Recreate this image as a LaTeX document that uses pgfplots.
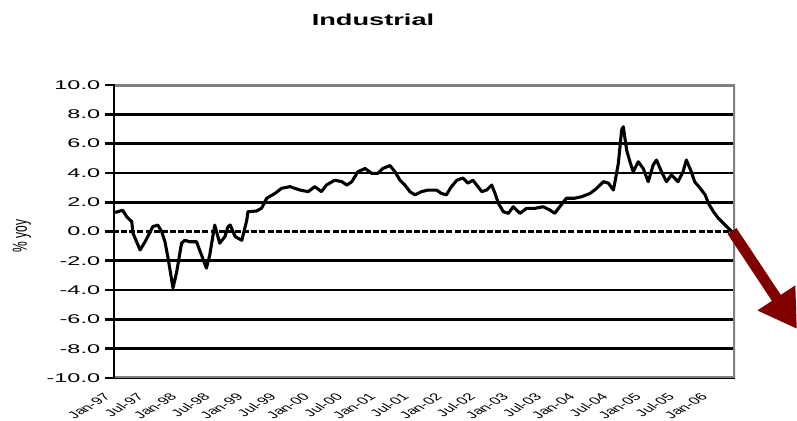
\documentclass[border=0pt]{standalone}
\usepackage{pgfplots}
\pgfplotsset{compat=1.18}
\usepackage{fontspec}
\setmainfont{Liberation Sans}
\usetikzlibrary{arrows.meta}
\definecolor{framegray}{RGB}{128,128,128}
\definecolor{arrowred}{RGB}{128,0,0}
% wide, stretched lettering
\newcommand\hx[1]{\scalebox{1.7}[1]{#1}}
\newcommand\hy[1]{\scalebox{1.85}[1]{#1}}
\newcommand\lab[1]{\scalebox{1.7}[1]{\rotatebox{45}{#1}}}

\begin{document}
\begin{tikzpicture}[x=0.75pt,y=0.75pt]
\useasboundingbox (0,0) rectangle (797,421);
\fill[white] (0,0) rectangle (797,421);
\begin{axis}[
  at={(84.75pt,32.25pt)}, anchor=south west,
  scale only axis, width=466.5pt, height=219.75pt,
  xmin=0, xmax=112.5, ymin=-10, ymax=10,
  axis line style={draw=none},
  ytick={-10,-8,-6,-4,-2,2,4,6,8,10},
  extra y ticks={0},
  extra y tick labels={\hy{0.0}},
  extra y tick style={grid style={black, line width=2.2pt, dash pattern=on 4.5pt off 1.6pt}},
  /pgf/number format/assume math mode=true,
  yticklabel={\hy{\pgfmathprintnumber[fixed,fixed zerofill,precision=1]{\tick}}},
  ymajorgrids, major grid style={black, line width=2pt},
  ytick pos=left, tick align=outside, major tick length=6pt,
  ytick style={black, line width=2pt},
  yticklabel style={font=\fontsize{9.5}{9.5}\selectfont, inner sep=3.5pt},
  xtick={0,6,...,108},
  xtick style={draw=none},
  xticklabels={\lab{Jan-97},\lab{Jul-97},\lab{Jan-98},\lab{Jul-98},\lab{Jan-99},\lab{Jul-99},\lab{Jan-00},\lab{Jul-00},\lab{Jan-01},\lab{Jul-01},\lab{Jan-02},\lab{Jul-02},\lab{Jan-03},\lab{Jul-03},\lab{Jan-04},\lab{Jul-04},\lab{Jan-05},\lab{Jul-05},\lab{Jan-06}},
  xticklabel style={font=\fontsize{7.5}{7.5}\selectfont, anchor=north east, inner sep=1pt, yshift=-4pt},
]
\addplot[black, line width=2.3pt, line join=round] coordinates {
(0.4,1.3) (1.75,1.45) (2.5,1.0) (3.4,0.67) (3.6,-0.1) (4.9,-1.26) (5.8,-0.7)
(7.2,0.33) (8.1,0.44) (8.8,0.0) (9.4,-0.7) (9.95,-1.8) (10.85,-3.85) (11.5,-2.8)
(12.4,-0.8) (13.0,-0.6) (13.9,-0.7) (15.1,-0.7) (16.0,-1.6) (16.9,-2.5) (17.5,-1.6)
(18.4,0.44) (19.3,-0.8) (20.25,-0.35) (20.8,0.33) (21.2,0.44) (22.1,-0.35) (23.3,-0.6)
(24.2,0.78) (24.4,1.35) (26.0,1.4) (26.9,1.6) (27.8,2.27) (29.3,2.6) (30.5,2.95)
(32.0,3.06) (33.8,2.83) (35.3,2.72) (36.5,3.06) (37.7,2.72) (38.6,3.17) (40.1,3.5)
(41.4,3.4) (42.3,3.17) (43.2,3.4) (44.3,4.08) (45.6,4.3) (46.8,3.97) (47.9,3.97)
(48.8,4.3) (50.1,4.5) (51.0,4.08) (51.9,3.5) (52.8,3.17) (53.7,2.72) (54.6,2.5)
(55.8,2.72) (57.0,2.83) (58.5,2.83) (59.4,2.6) (60.3,2.5) (61.2,3.06) (62.2,3.5)
(63.3,3.65) (64.2,3.3) (65.1,3.5) (66.0,3.06) (66.7,2.72) (67.6,2.83) (68.5,3.17)
(69.1,2.6) (69.7,1.92) (70.6,1.35) (71.5,1.24) (72.4,1.69) (73.6,1.24) (74.8,1.58)
(76.3,1.58) (77.8,1.69) (79.0,1.47) (79.9,1.24) (80.8,1.69) (82.0,2.27) (83.5,2.27)
(84.8,2.38) (86.3,2.6) (87.5,2.95) (88.7,3.4) (89.6,3.3) (90.5,2.83) (90.8,3.4)
(91.4,4.65) (92.0,6.93) (92.3,7.15) (92.9,5.56) (93.5,4.76) (94.1,4.08) (95.0,4.76)
(95.9,4.3) (96.8,3.4) (97.7,4.54) (98.3,4.88) (99.2,4.08) (100.1,3.4) (101.0,3.86)
(102.2,3.4) (103.1,4.08) (103.7,4.88) (104.6,4.08) (105.2,3.4) (106.2,2.95)
(107.1,2.5) (107.7,1.92) (108.6,1.35) (109.5,0.9) (110.4,0.56) (111.3,0.22) (111.9,0.0)
};
% frame: grey top, bottom and right, black value axis on the left
\draw[framegray, line width=2.5pt] (rel axis cs:0,1) -- (rel axis cs:1,1) -- (rel axis cs:1,0) -- (rel axis cs:0,0);
\draw[black, line width=3pt] (rel axis cs:0,-0.02) -- (rel axis cs:0,1.005);
\end{axis}
\node[font=\bfseries\fontsize{12}{12}\selectfont] at (373,401) {\hx{Industrial}};
\node[font=\fontsize{9}{9}\selectfont] at (22,185) {\hx{\rotatebox{90}{\% yoy}}};
\draw[arrowred, line width=8pt, -{Triangle[length=28pt,width=32pt]}] (732,190) -- (797,92);
\end{tikzpicture}
\end{document}
